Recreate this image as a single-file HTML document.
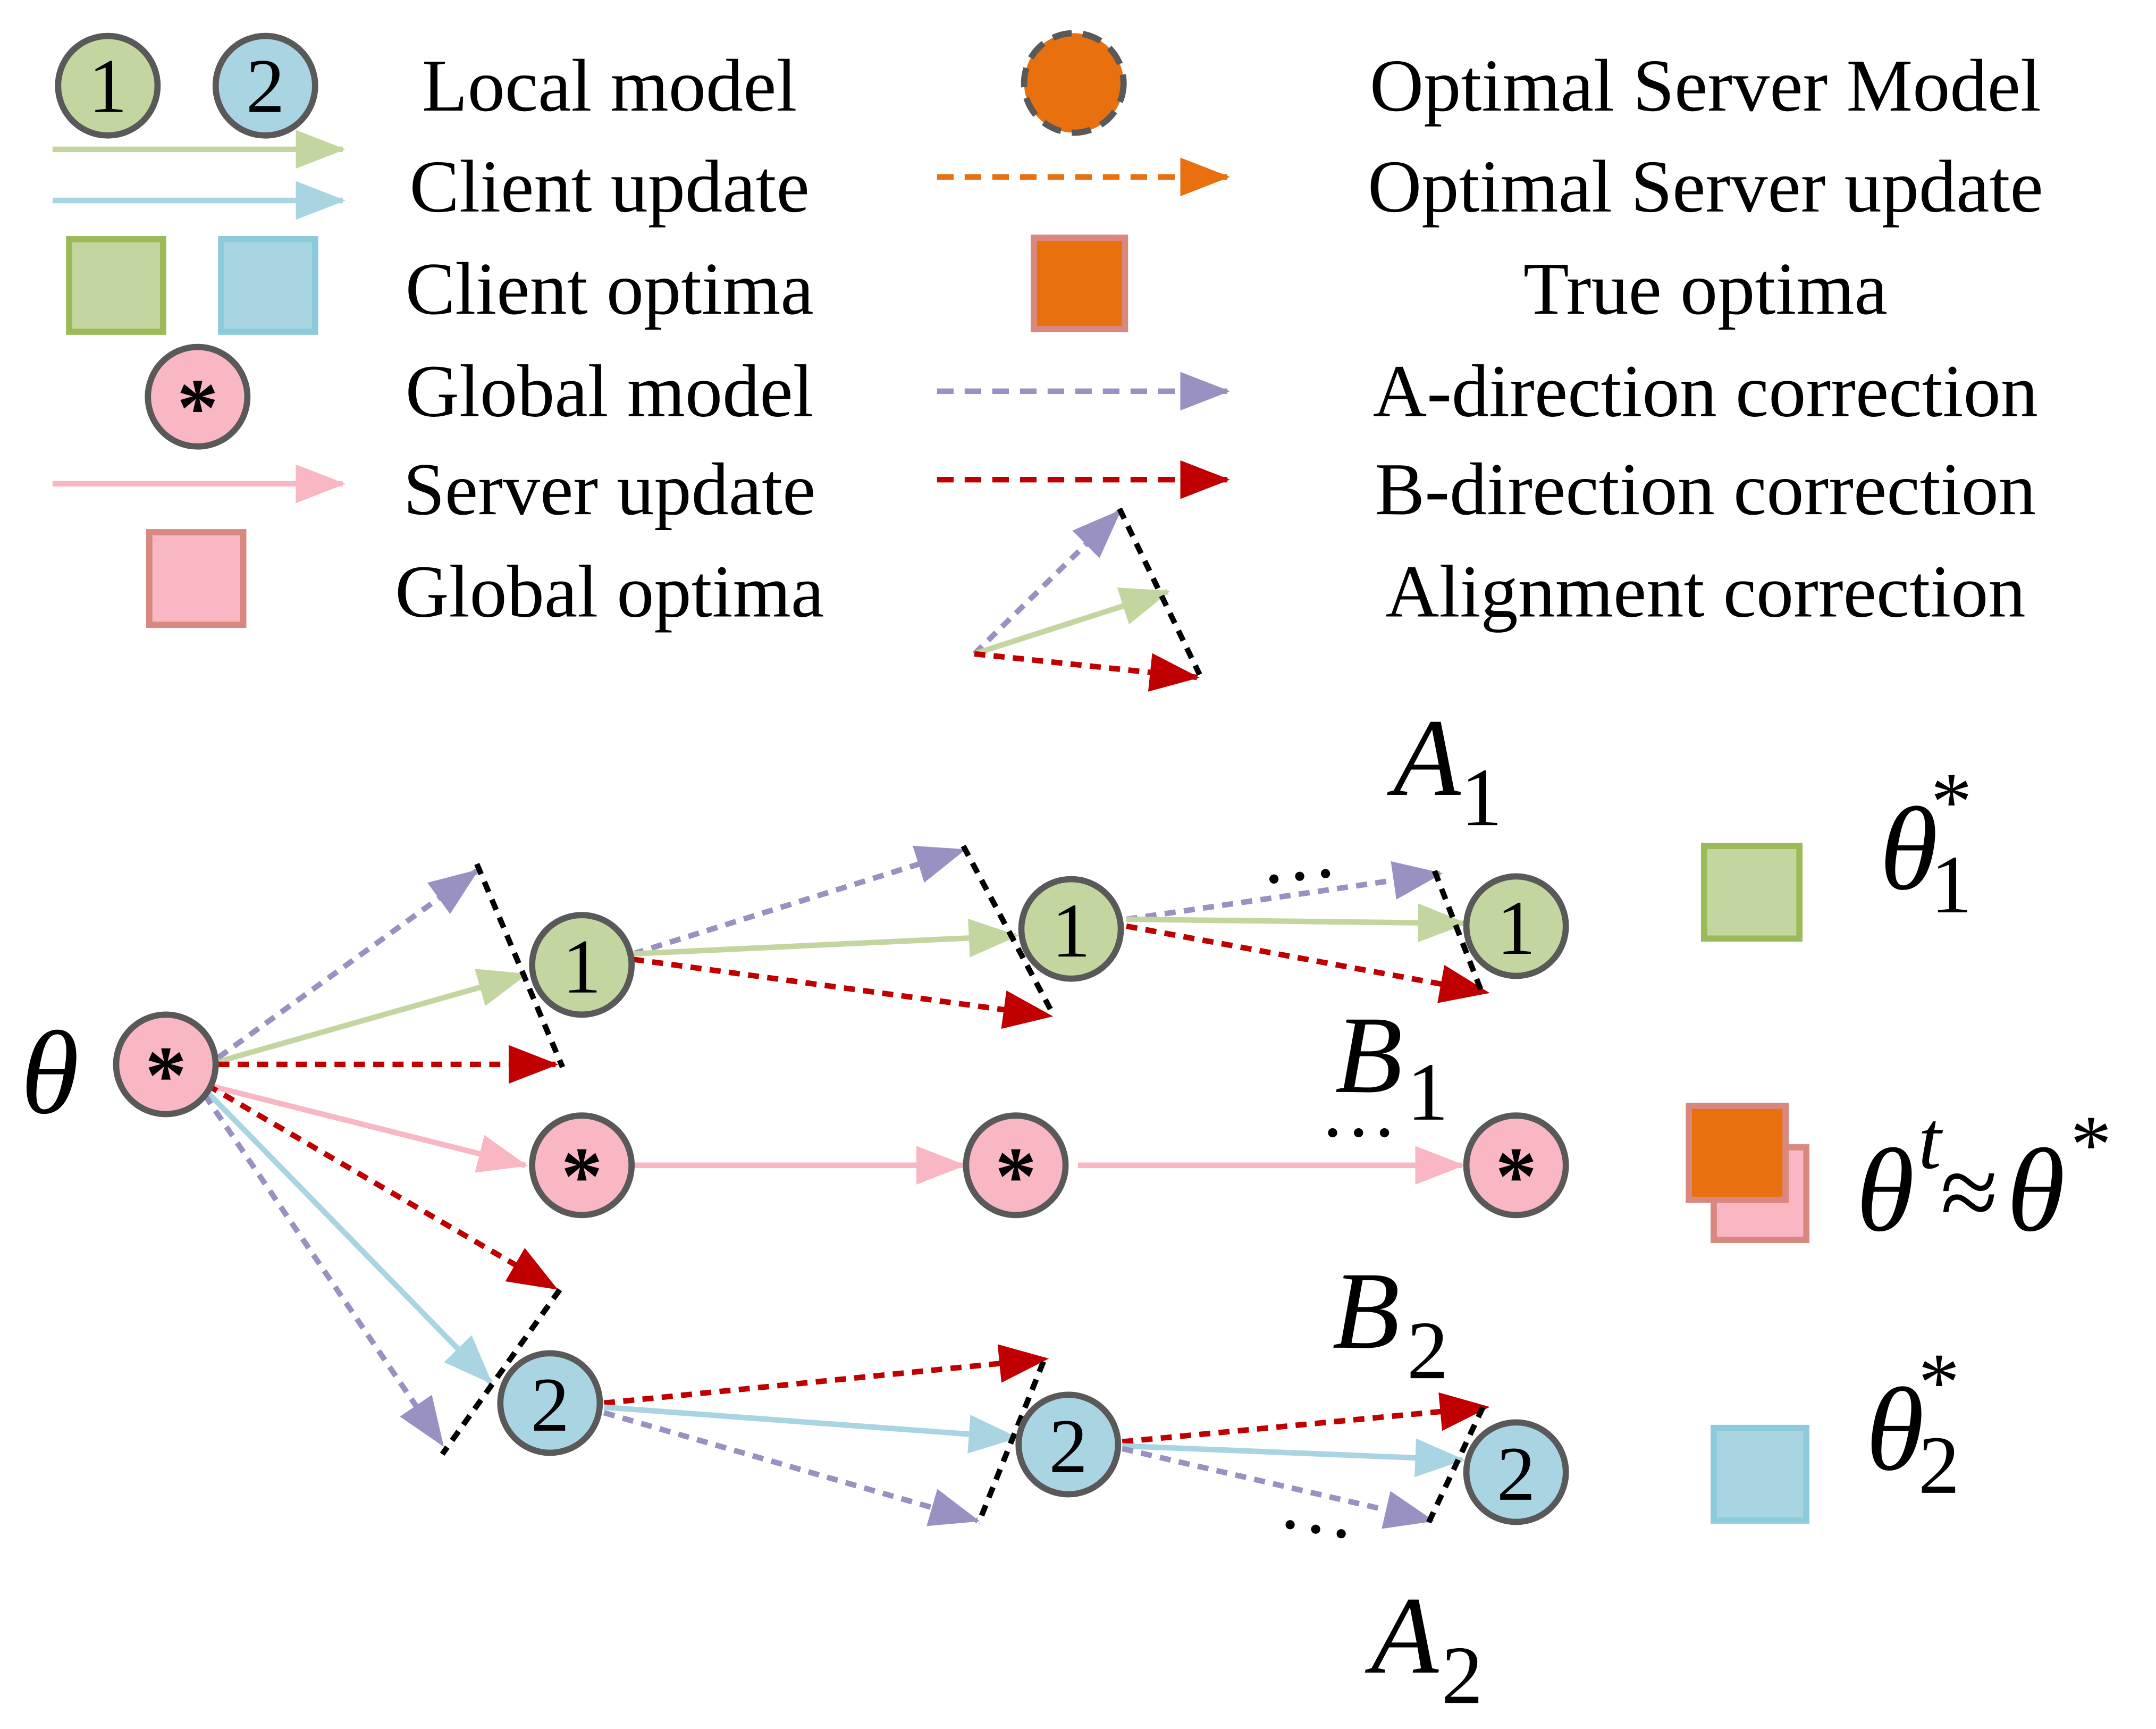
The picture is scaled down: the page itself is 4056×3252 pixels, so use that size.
<!DOCTYPE html>
<html><head><meta charset="utf-8"><style>
html,body{margin:0;padding:0;background:#fff}
svg{display:block}
text{font-family:"Liberation Serif",serif}
</style></head><body>
<svg width="4056" height="3252" viewBox="0 0 1560 1250.8" xmlns="http://www.w3.org/2000/svg">
<defs>
<marker id="mg" markerUnits="userSpaceOnUse" markerWidth="36" markerHeight="28" refX="34" refY="14" orient="auto"><path d="M0,0 L36,14 L0,28 Z" fill="#c4d6a0"/></marker>
<marker id="mb" markerUnits="userSpaceOnUse" markerWidth="36" markerHeight="28" refX="34" refY="14" orient="auto"><path d="M0,0 L36,14 L0,28 Z" fill="#a9d5e2"/></marker>
<marker id="mp" markerUnits="userSpaceOnUse" markerWidth="36" markerHeight="28" refX="34" refY="14" orient="auto"><path d="M0,0 L36,14 L0,28 Z" fill="#f9b6c3"/></marker>
<marker id="mo" markerUnits="userSpaceOnUse" markerWidth="36" markerHeight="28" refX="34" refY="14" orient="auto"><path d="M0,0 L36,14 L0,28 Z" fill="#e8700e"/></marker>
<marker id="mu" markerUnits="userSpaceOnUse" markerWidth="36" markerHeight="28" refX="34" refY="14" orient="auto"><path d="M0,0 L36,14 L0,28 Z" fill="#9991c1"/></marker>
<marker id="mr" markerUnits="userSpaceOnUse" markerWidth="36" markerHeight="28" refX="34" refY="14" orient="auto"><path d="M0,0 L36,14 L0,28 Z" fill="#c00000"/></marker>
</defs>
<g fill="none" stroke-width="4">
<line x1="38" y1="108" x2="248" y2="108" stroke="#c4d6a0" marker-end="url(#mg)"/>
<line x1="38" y1="145" x2="248" y2="145" stroke="#a9d5e2" marker-end="url(#mb)"/>
<line x1="38" y1="350" x2="248" y2="350" stroke="#f9b6c3" marker-end="url(#mp)"/>
<line x1="678" y1="128" x2="888" y2="128" stroke="#e8700e" stroke-dasharray="12,8" marker-end="url(#mo)"/>
<line x1="678" y1="283" x2="888" y2="283" stroke="#9991c1" stroke-dasharray="12,8" marker-end="url(#mu)"/>
<line x1="678" y1="347" x2="888" y2="347" stroke="#c00000" stroke-dasharray="12,8" marker-end="url(#mr)"/>
<line x1="705" y1="473" x2="810" y2="370" stroke="#9991c1" stroke-dasharray="8,6" marker-end="url(#mu)"/>
<line x1="705" y1="473" x2="845" y2="428" stroke="#c4d6a0" marker-end="url(#mg)"/>
<line x1="705" y1="473" x2="866" y2="490" stroke="#c00000" stroke-dasharray="8,6" marker-end="url(#mr)"/>
<line x1="810" y1="368" x2="868" y2="488" stroke="#000" stroke-dasharray="8,6"/>

<line x1="158" y1="768" x2="380" y2="705" stroke="#c4d6a0" marker-end="url(#mg)"/>
<line x1="158" y1="765" x2="345" y2="630" stroke="#9991c1" stroke-dasharray="8,6" marker-end="url(#mu)"/>
<line x1="158" y1="770" x2="402" y2="770" stroke="#c00000" stroke-dasharray="8,6" marker-end="url(#mr)"/>
<line x1="345" y1="625" x2="407" y2="772" stroke="#000" stroke-dasharray="8,6"/>
<line x1="150" y1="785" x2="380" y2="843" stroke="#f9b6c3" marker-end="url(#mp)"/>
<line x1="150" y1="785" x2="402" y2="932" stroke="#c00000" stroke-dasharray="8,6" marker-end="url(#mr)"/>
<line x1="150" y1="790" x2="355" y2="1000" stroke="#a9d5e2" marker-end="url(#mb)"/>
<line x1="148" y1="792" x2="320" y2="1045" stroke="#9991c1" stroke-dasharray="8,6" marker-end="url(#mu)"/>
<line x1="405" y1="933" x2="320" y2="1052" stroke="#000" stroke-dasharray="8,6"/>

<line x1="458" y1="690" x2="697" y2="615" stroke="#9991c1" stroke-dasharray="8,6" marker-end="url(#mu)"/>
<line x1="458" y1="690" x2="735" y2="677" stroke="#c4d6a0" marker-end="url(#mg)"/>
<line x1="458" y1="694" x2="760" y2="735" stroke="#c00000" stroke-dasharray="8,6" marker-end="url(#mr)"/>
<line x1="697" y1="612" x2="760" y2="730" stroke="#000" stroke-dasharray="8,6"/>

<line x1="815" y1="665" x2="1042" y2="632" stroke="#9991c1" stroke-dasharray="8,6" marker-end="url(#mu)"/>
<line x1="815" y1="665" x2="1060" y2="668" stroke="#c4d6a0" marker-end="url(#mg)"/>
<line x1="815" y1="670" x2="1076" y2="718" stroke="#c00000" stroke-dasharray="8,6" marker-end="url(#mr)"/>
<line x1="1038" y1="630" x2="1073" y2="720" stroke="#000" stroke-dasharray="8,6"/>

<line x1="458" y1="843" x2="697" y2="843" stroke="#f9b6c3" marker-end="url(#mp)"/>
<line x1="780" y1="843" x2="1058" y2="843" stroke="#f9b6c3" marker-end="url(#mp)"/>

<line x1="437" y1="1015" x2="757" y2="983" stroke="#c00000" stroke-dasharray="8,6" marker-end="url(#mr)"/>
<line x1="437" y1="1018" x2="735" y2="1040" stroke="#a9d5e2" marker-end="url(#mb)"/>
<line x1="437" y1="1022" x2="707" y2="1100" stroke="#9991c1" stroke-dasharray="8,6" marker-end="url(#mu)"/>
<line x1="755" y1="985" x2="708" y2="1102" stroke="#000" stroke-dasharray="8,6"/>

<line x1="812" y1="1043" x2="1076" y2="1018" stroke="#c00000" stroke-dasharray="8,6" marker-end="url(#mr)"/>
<line x1="812" y1="1046" x2="1058" y2="1056" stroke="#a9d5e2" marker-end="url(#mb)"/>
<line x1="812" y1="1048" x2="1036" y2="1100" stroke="#9991c1" stroke-dasharray="8,6" marker-end="url(#mu)"/>
<line x1="1073" y1="1018" x2="1033" y2="1103" stroke="#000" stroke-dasharray="8,6"/>
</g>

<g stroke="#595959" stroke-width="4.5">
<circle cx="78" cy="62" r="36" fill="#c4d6a0"/>
<circle cx="192" cy="62" r="36" fill="#a9d5e2"/>
<circle cx="143" cy="287" r="36" fill="#f9b6c3"/>
<circle cx="777" cy="60" r="36" fill="#e8700e" stroke-dasharray="14,8"/>
<circle cx="120" cy="770" r="36" fill="#f9b6c3"/>
<circle cx="421" cy="698" r="36" fill="#c4d6a0"/>
<circle cx="775" cy="672" r="36" fill="#c4d6a0"/>
<circle cx="1097" cy="670" r="36" fill="#c4d6a0"/>
<circle cx="421" cy="843" r="36" fill="#f9b6c3"/>
<circle cx="735" cy="843" r="36" fill="#f9b6c3"/>
<circle cx="1097" cy="843" r="36" fill="#f9b6c3"/>
<circle cx="398" cy="1015" r="36" fill="#a9d5e2"/>
<circle cx="773" cy="1045" r="36" fill="#a9d5e2"/>
<circle cx="1097" cy="1065" r="36" fill="#a9d5e2"/>
</g>
<g stroke-width="4.5">
<rect x="50" y="173" width="68" height="67" fill="#c4d6a0" stroke="#9bbb59"/>
<rect x="160" y="173" width="68" height="67" fill="#a9d5e2" stroke="#8ccbdc"/>
<rect x="108" y="385" width="68" height="67" fill="#f9b6c3" stroke="#d98880"/>
<rect x="748" y="172" width="66" height="66" fill="#e8700e" stroke="#d98880"/>
<rect x="1233" y="612" width="69" height="67" fill="#c4d6a0" stroke="#9bbb59"/>
<rect x="1240" y="830" width="67" height="67" fill="#f9b6c3" stroke="#d98880"/>
<rect x="1222" y="800" width="70" height="68" fill="#e8700e" stroke="#d98880"/>
<rect x="1240" y="1033" width="67" height="67" fill="#a9d5e2" stroke="#8ccbdc"/>
</g>

<g font-size="56" text-anchor="middle" fill="#000">
<text x="78" y="81">1</text><text x="192" y="81">2</text>
<text x="421" y="718">1</text><text x="775" y="692">1</text><text x="1097" y="690">1</text>
<text x="398" y="1035">2</text><text x="773" y="1065">2</text><text x="1097" y="1085">2</text>
</g>
<g font-size="60" font-weight="bold" text-anchor="middle" fill="#000">
<text x="143" y="315">*</text>
<text x="120" y="798">*</text>
<text x="421" y="871">*</text>
<text x="735" y="871">*</text>
<text x="1097" y="871">*</text>
</g>

<g font-size="54" text-anchor="middle" fill="#000">
<text x="441" y="80">Local model</text>
<text x="441" y="153">Client update</text>
<text x="441" y="227">Client optima</text>
<text x="441" y="301">Global model</text>
<text x="441" y="372">Server update</text>
<text x="441" y="446">Global optima</text>
<text x="1234" y="80">Optimal Server Model</text>
<text x="1234" y="153">Optimal Server update</text>
<text x="1234" y="227">True optima</text>
<text x="1234" y="301">A-direction correction</text>
<text x="1234" y="372">B-direction correction</text>
<text x="1234" y="446">Alignment correction</text>
</g>

<g font-size="56" fill="#000">
<text x="912" y="637" transform="rotate(-6 935 630)">…</text>
<text x="955" y="822">…</text>
<text x="925" y="1108" transform="rotate(10 948 1100)">…</text>
</g>

<g font-style="italic" fill="#000">
<text x="15" y="805" font-size="86">θ</text>
<text x="1008" y="575" font-size="80">A</text><text x="1057" y="597" font-size="60" font-style="normal">1</text>
<text x="966" y="790" font-size="80">B</text><text x="1018" y="810" font-size="60" font-style="normal">1</text>
<text x="964" y="975" font-size="80">B</text><text x="1018" y="997" font-size="60" font-style="normal">2</text>
<text x="992" y="1210" font-size="80">A</text><text x="1043" y="1232" font-size="60" font-style="normal">2</text>
<text x="1360" y="643" font-size="86">θ</text><text x="1397" y="660" font-size="60" font-style="normal">1</text><text x="1397" y="600" font-size="60" font-style="normal">*</text>
<text x="1343" y="890" font-size="86">θ</text><text x="1388" y="845" font-size="60">t</text><text x="1404" y="888" font-size="76" font-style="normal">≈</text><text x="1452" y="890" font-size="86">θ</text><text x="1498" y="848" font-size="60" font-style="normal">*</text>
<text x="1350" y="1063" font-size="86">θ</text><text x="1388" y="1080" font-size="60" font-style="normal">2</text><text x="1388" y="1020" font-size="60" font-style="normal">*</text>
</g>
</svg>
</body></html>
